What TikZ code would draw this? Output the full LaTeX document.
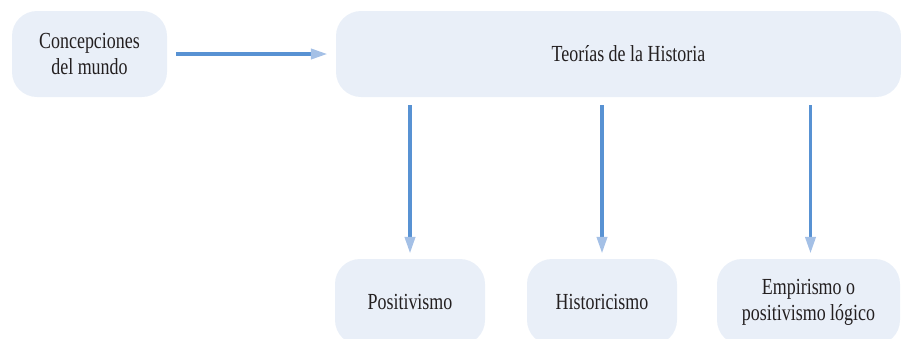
\documentclass[tikz,border=0pt]{standalone}
\usepackage{fontspec}
\setmainfont{Liberation Serif}[FakeStretch=0.78]
\usetikzlibrary{arrows.meta}
\definecolor{boxfill}{RGB}{233,239,248}
\definecolor{linecol}{RGB}{88,146,211}
\definecolor{headcol}{RGB}{164,192,230}
\definecolor{txtcol}{RGB}{35,31,32}
\tikzset{
  conbox/.style={rectangle, rounded corners=25pt, fill=boxfill, draw=none,
    inner sep=0pt, align=center, text=txtcol,
    font=\fontsize{23}{26}\selectfont},
  conarrow/.style={draw=linecol, line width=3.8pt,
    -{Triangle[length=17pt,width=10pt,color=headcol,fill=headcol]}}
}
\begin{document}
\begin{tikzpicture}[x=1pt,y=-1pt]
\useasboundingbox (0,0) rectangle (901,338);
\node[conbox, minimum width=155pt, minimum height=86pt] (conc) at (89.5,54) {Concepciones\\del mundo};
\node[conbox, minimum width=565pt, minimum height=86pt] (teo) at (618.5,54) {};
\node[text=txtcol, font=\fontsize{23}{26}\selectfont, inner sep=0pt] (teotxt) at ([xshift=10pt]teo.center) {Teorías de la Historia};
\node[conbox, minimum width=150pt, minimum height=86pt] (pos) at (410,302) {Positivismo};
\node[conbox, minimum width=150pt, minimum height=86pt] (his) at (602,302) {Historicismo};
\node[conbox, minimum width=183pt, minimum height=86pt] (emp) at (808.5,302) {Empirismo o\\positivismo lógico};
\draw[conarrow, shorten <=9pt, shorten >=8pt] (conc.east) -- (teo.west);
\draw[conarrow, shorten <=8pt, shorten >=5pt] (teo.south -| pos.north) -- (pos.north);
\draw[conarrow, shorten <=8pt, shorten >=5pt] (teo.south -| his.north) -- (his.north);
\draw[conarrow, shorten <=8pt, shorten >=5pt] ([xshift=2pt]teo.south -| emp.north) -- ([xshift=2pt]emp.north);
\end{tikzpicture}
\end{document}
